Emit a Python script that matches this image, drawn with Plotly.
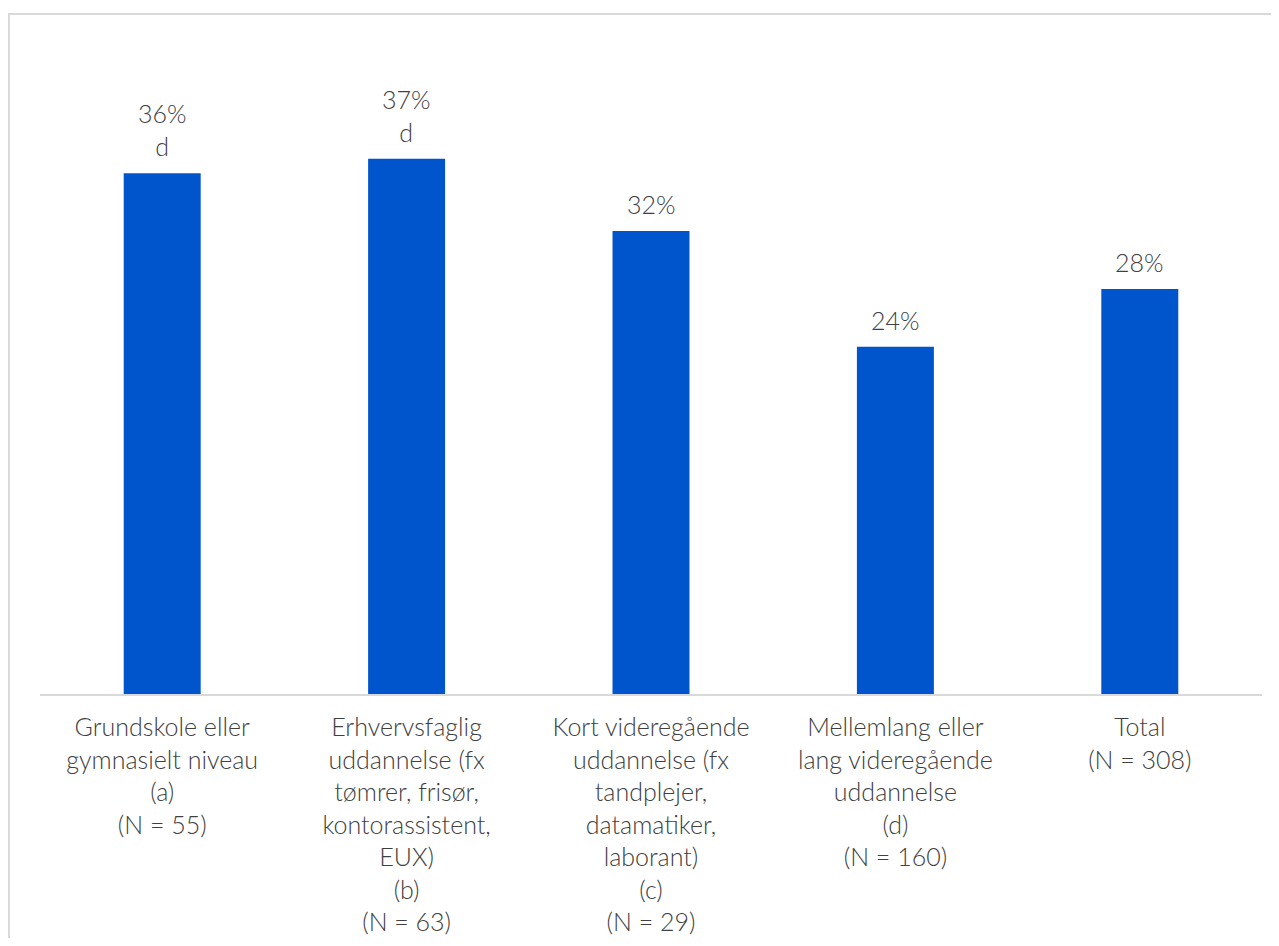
import plotly.graph_objects as go

categories = [
    "Grundskole eller<br>gymnasielt niveau<br>(a)<br>(N = 55)",
    "Erhvervsfaglig<br>uddannelse (fx<br>tømrer, frisør,<br>kontorassistent,<br>EUX)<br>(b)<br>(N = 63)",
    "Kort videregående<br>uddannelse (fx<br>tandplejer,<br>datamatiker,<br>laborant)<br>(c)<br>(N = 29)",
    "Mellemlang eller<br>lang videregående<br>uddannelse<br>(d)<br>(N = 160)",
    "Total<br>(N = 308)",
]
values = [36, 37, 32, 24, 28]
sig_notes = ["d", "d", "", "", ""]

labels = [f"{v}%" + (f"<br>{n}" if n else "") for v, n in zip(values, sig_notes)]

FONT = "Lato"
FS = 25
WT = 300
TXT = "#404040"

fig = go.Figure(
    go.Bar(
        x=categories,
        y=values,
        marker=dict(color="#0055CC", line=dict(width=0)),
        cliponaxis=False,
        width=0.315,
        hoverinfo="skip",
    )
)

for c, v, t in zip(categories, values, labels):
    fig.add_annotation(
        x=c, y=v, text=t, showarrow=False,
        xref="x", yref="y", yanchor="bottom", yshift=10,
        font=dict(family=FONT, size=FS, color=TXT, weight=WT),
    )

# page body has an 8px margin
W, H = 1263, 930
L, R, T, B = 32, 9, 35, 244
fig.update_layout(
    width=W,
    height=H,
    margin=dict(l=L, r=R, t=T, b=B),
    paper_bgcolor="white",
    plot_bgcolor="white",
    showlegend=False,
    font=dict(family=FONT, size=FS, color=TXT, weight=WT),
    xaxis=dict(
        automargin=False,
        showline=True,
        linecolor="#d9d9d9",
        linewidth=2,
        ticks="",
        ticklabelstandoff=10,
        tickfont=dict(family=FONT, size=FS, color=TXT, weight=WT),
        showgrid=False,
    ),
    yaxis=dict(
        automargin=False,
        range=[0, 45],
        visible=False,
        showgrid=False,
        zeroline=False,
    ),
)

pw = W - L - R
ph = H - T - B
fig.add_shape(
    type="rect",
    xref="paper", yref="paper",
    x0=(1 - L) / pw, x1=(W + 20 - L) / pw,
    y0=-(H + 20 - (H - B)) / ph,
    y1=(H - B - 6) / ph,
    line=dict(color="#d9d9d9", width=2),
    layer="below",
)

fig.write_html("out.html")
